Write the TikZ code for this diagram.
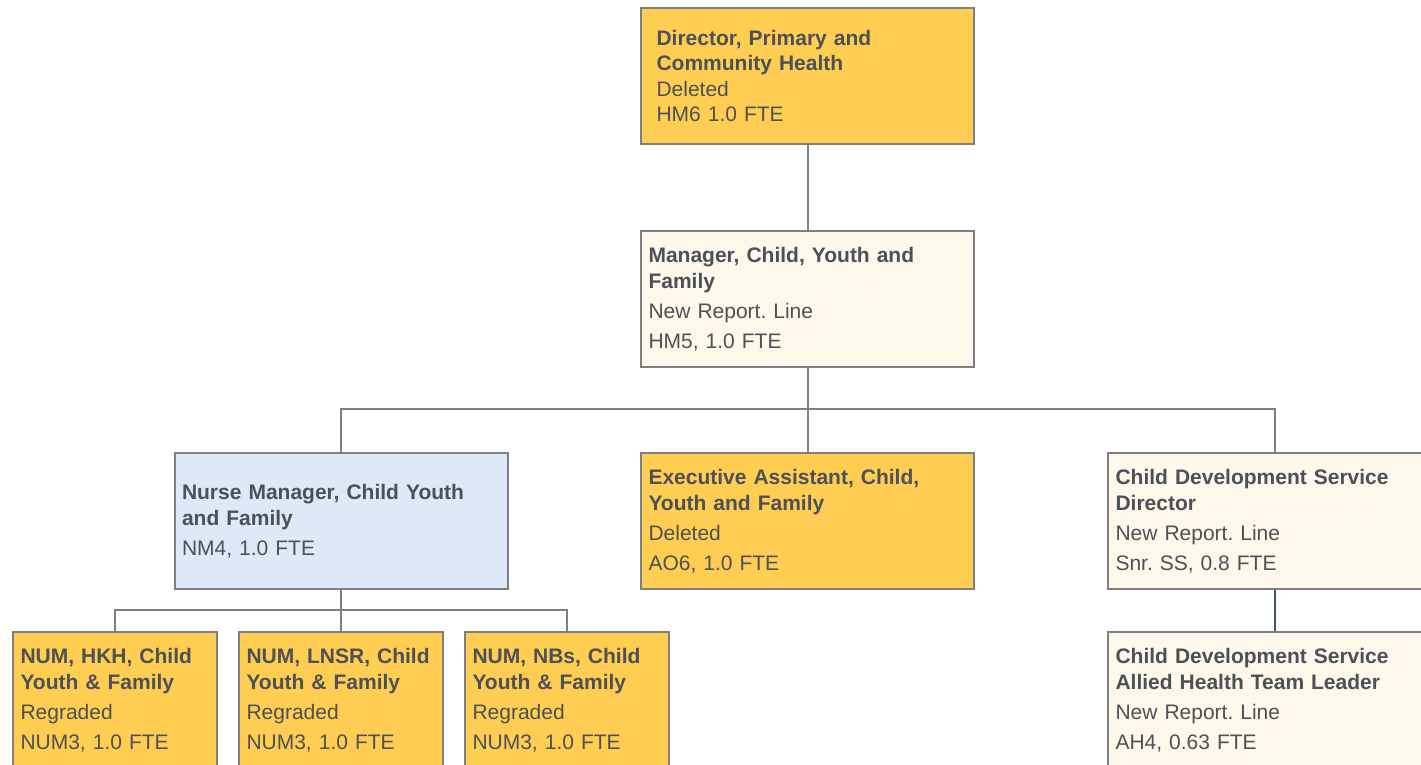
\documentclass[tikz,border=0pt]{standalone}
\usepackage{fontspec}
\setmainfont{Liberation Sans}
\frenchspacing
\definecolor{gold}{HTML}{FFCD52}
\definecolor{cream}{HTML}{FEF8EA}
\definecolor{paleblue}{HTML}{DCE9F6}
\definecolor{edgegray}{HTML}{7F7F7F}
\definecolor{ink}{HTML}{4B5157}
\definecolor{navyline}{HTML}{44546A}
\tikzset{
  box/.style={draw=edgegray, line width=2pt, rectangle, anchor=north west,
    minimum height=136pt, inner xsep=7.5pt, inner ysep=0pt, align=left,
    text=ink, font=\fontsize{21}{25.5}\selectfont},
  wide/.style={minimum width=333pt, text width=318pt},
  narrow/.style={minimum width=204pt, text width=189pt},
  link/.style={draw=edgegray, line width=2pt},
}
\begin{document}
\frenchspacing
\begin{tikzpicture}[x=1pt,y=-1pt]
\useasboundingbox (0,0) rectangle (1421,765);
\clip (0,0) rectangle (1421,765);
\node[box, fill=gold, minimum width=333pt, inner xsep=15.5pt, text width=302pt] (dir) at (640,7)
  {\textbf{Director, Primary and}\\\textbf{Community Health}\\Deleted\\HM6 1.0 FTE};
\node[box, wide, fill=cream] (mgr) at (640,230)
  {\textbf{Manager, Child, Youth and}\\\textbf{Family}\\[4.5pt]New Report. Line\\[4.5pt]HM5, 1.0 FTE};
\node[box, wide, fill=paleblue] (nurse) at (173.5,452)
  {\textbf{Nurse Manager, Child Youth}\\\textbf{and Family}\\[4.5pt]NM4, 1.0 FTE};
\node[box, wide, fill=gold] (exec) at (640,452)
  {\textbf{Executive Assistant, Child,}\\\textbf{Youth and Family}\\[4.5pt]Deleted\\[4.5pt]AO6, 1.0 FTE};
\node[box, wide, fill=cream] (cds) at (1107,452)
  {\textbf{Child Development Service}\\\textbf{Director}\\[4.5pt]New Report. Line\\[4.5pt]Snr. SS, 0.8 FTE};
\node[box, wide, fill=cream] (cdsah) at (1107,631)
  {\textbf{Child Development Service}\\\textbf{Allied Health Team Leader}\\[4.5pt]New Report. Line\\[4.5pt]AH4, 0.63 FTE};
\node[box, narrow, fill=gold] (num1) at (12,631)
  {\textbf{NUM, HKH, Child}\\\textbf{Youth \& Family}\\[4.5pt]Regraded\\[4.5pt]NUM3, 1.0 FTE};
\node[box, narrow, fill=gold] (num2) at (238,631)
  {\textbf{NUM, LNSR, Child}\\\textbf{Youth \& Family}\\[4.5pt]Regraded\\[4.5pt]NUM3, 1.0 FTE};
\node[box, narrow, fill=gold] (num3) at (464,631)
  {\textbf{NUM, NBs, Child}\\\textbf{Youth \& Family}\\[4.5pt]Regraded\\[4.5pt]NUM3, 1.0 FTE};
\coordinate (j1) at (mgr.south |- 0,409);
\coordinate (j2) at (nurse.south |- 0,610);
\draw[link] (dir.south) -- (mgr.north);
\draw[link] (mgr.south) -- (j1);
\draw[link] (j1) -| (nurse.north);
\draw[link] (j1) -| (exec.north);
\draw[link] (j1) -| (cds.north);
\draw[link] (nurse.south) -- (j2);
\draw[link] (j2) -| (num1.north);
\draw[link] (j2) -| (num2.north);
\draw[link] (j2) -| (num3.north);
\draw[line width=2pt, draw=navyline] (cds.south) -- (cdsah.north);
\end{tikzpicture}
\end{document}
